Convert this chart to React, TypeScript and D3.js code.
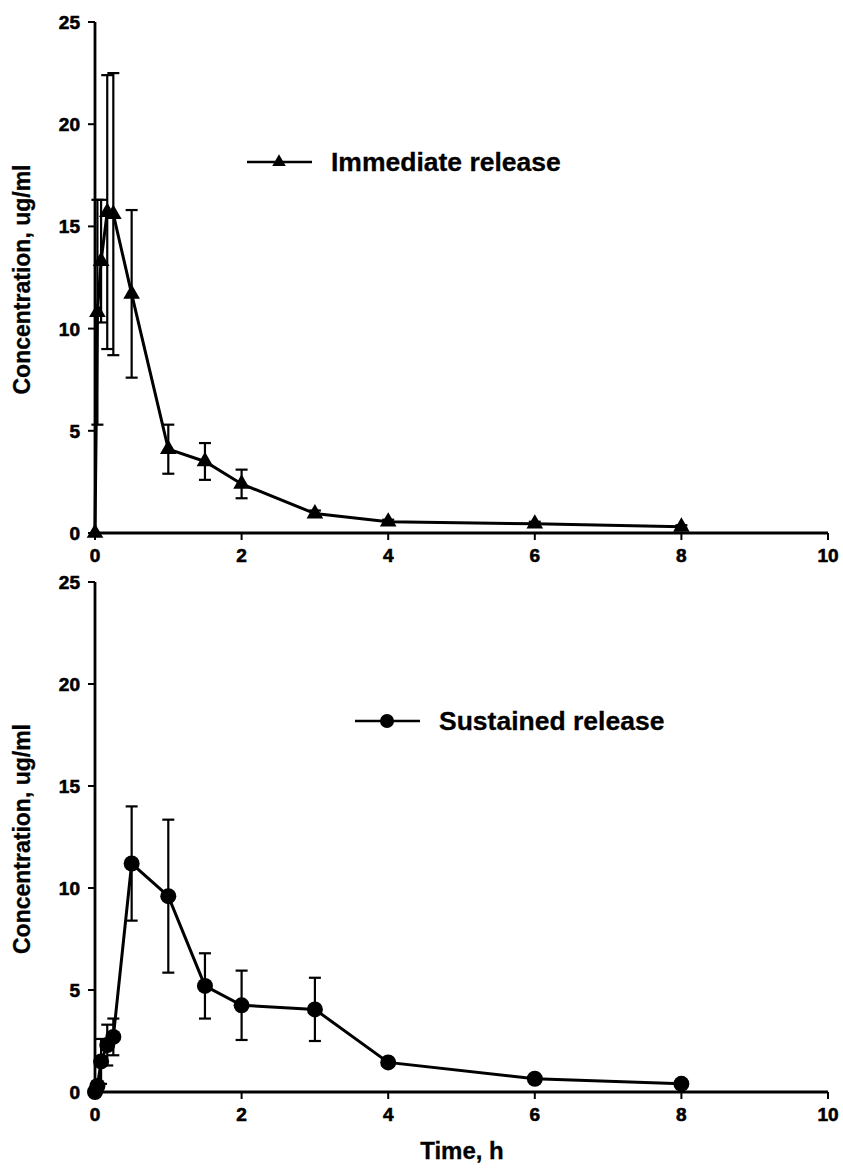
import React from "react";
import * as d3 from "d3";

const irTime = [0, 0.033, 0.083, 0.167, 0.25, 0.5, 1, 1.5, 2, 3, 4, 6, 8];
const irMean = [0, 10.8, 13.3, 15.7, 15.6, 11.7, 4.1, 3.5, 2.4, 0.95, 0.55, 0.45, 0.3];
const irSD = [0, 5.5, 3.0, 6.7, 6.9, 4.1, 1.2, 0.9, 0.7, 0.15, 0.1, 0.1, 0.08];

const srTime = [0, 0.033, 0.083, 0.167, 0.25, 0.5, 1, 1.5, 2, 3, 4, 6, 8];
const srMean = [0, 0.3, 1.5, 2.3, 2.7, 11.2, 9.6, 5.2, 4.25, 4.05, 1.45, 0.65, 0.4];
const srSD = [0, 0.2, 1.1, 1.0, 0.9, 2.8, 3.75, 1.6, 1.7, 1.55, 0.12, 0.1, 0.08];

const xTicks = [0, 2, 4, 6, 8, 10];
const yTicks = [0, 5, 10, 15, 20, 25];

const FONT = "'Liberation Sans', Arial, sans-serif";

type PanelProps = {
  top: number;
  bottom: number;
  time: number[];
  mean: number[];
  sd: number[];
  marker: "triangle" | "circle";
  legend: string;
  legendX: number;
  legendY: number;
};

function Panel({ top, bottom, time, mean, sd, marker, legend, legendX, legendY }: PanelProps) {
  const x = d3.scaleLinear().domain([0, 10]).range([95, 828]);
  const y = d3.scaleLinear().domain([0, 25]).range([bottom, top]);
  const line = d3
    .line<number>()
    .x((_, i) => x(time[i]))
    .y((d) => y(d));
  const tri = d3.symbol().type(d3.symbolTriangle).size(120)();
  const triSmall = d3.symbol().type(d3.symbolTriangle).size(80)();
  const cap = 6;
  const drawMarker = (cx: number, cy: number, key: string | number, small = false) =>
    marker === "triangle" ? (
      <path key={key} d={(small ? triSmall : tri) || ""} transform={`translate(${cx},${cy})`} fill="#000" />
    ) : (
      <circle key={key} cx={cx} cy={cy} r={small ? 7 : 8} fill="#000" />
    );
  return (
    <g>
      {mean.map((m, i) =>
        sd[i] > 0.05 ? (
          <g key={"e" + i} stroke="#000" strokeWidth={2.2}>
            <line x1={x(time[i])} x2={x(time[i])} y1={y(m - sd[i])} y2={y(m + sd[i])} />
            <line x1={x(time[i]) - cap} x2={x(time[i]) + cap} y1={y(m + sd[i])} y2={y(m + sd[i])} />
            <line x1={x(time[i]) - cap} x2={x(time[i]) + cap} y1={y(m - sd[i])} y2={y(m - sd[i])} />
          </g>
        ) : null
      )}
      <path d={line(mean) || ""} fill="none" stroke="#000" strokeWidth={3} />
      {mean.map((m, i) => drawMarker(x(time[i]), y(m), i))}
      <line x1={x(0)} x2={x(0)} y1={y(25)} y2={y(0)} stroke="#000" strokeWidth={2.8} />
      <line x1={x(0)} x2={x(10)} y1={y(0)} y2={y(0)} stroke="#000" strokeWidth={2.8} />
      {yTicks.map((t) => (
        <g key={"y" + t}>
          <line x1={x(0) - 7} x2={x(0)} y1={y(t)} y2={y(t)} stroke="#000" strokeWidth={2} />
          <text
            x={x(0) - 15}
            y={y(t) + 7}
            textAnchor="end"
            fontFamily={FONT}
            fontWeight="bold"
            fontSize={19}
            stroke="#000"
            strokeWidth={0.6}
          >
            {t}
          </text>
        </g>
      ))}
      {xTicks.map((t) => (
        <g key={"x" + t}>
          <line x1={x(t)} x2={x(t)} y1={y(0)} y2={y(0) + 7} stroke="#000" strokeWidth={2} />
          <text
            x={x(t)}
            y={y(0) + 29}
            textAnchor="middle"
            fontFamily={FONT}
            fontWeight="bold"
            fontSize={19}
            stroke="#000"
            strokeWidth={0.6}
          >
            {t}
          </text>
        </g>
      ))}
      <text
        transform={`translate(30,${(top + bottom) / 2 + 2}) rotate(-90)`}
        textAnchor="middle"
        fontFamily={FONT}
        fontWeight="bold"
        fontSize={23}
        stroke="#000"
        strokeWidth={0.3}
      >
        Concentration, ug/ml
      </text>
      <line x1={legendX} x2={legendX + 65} y1={legendY} y2={legendY} stroke="#000" strokeWidth={2.5} />
      {drawMarker(legendX + 32, legendY, "leg", true)}
      <text
        x={legendX + 84}
        y={legendY + 9}
        fontFamily={FONT}
        fontWeight="bold"
        fontSize={26.5}
        stroke="#000"
        strokeWidth={0.3}
      >
        {legend}
      </text>
    </g>
  );
}

export default function App() {
  return (
    <svg
      width={843}
      height={1171}
      style={{ position: "absolute", left: 0, top: 0, background: "#fff" }}
    >
      <rect width={843} height={1171} fill="#fff" />
      <Panel
        top={22}
        bottom={533}
        time={irTime}
        mean={irMean}
        sd={irSD}
        marker="triangle"
        legend="Immediate release"
        legendX={247}
        legendY={162}
      />
      <Panel
        top={582}
        bottom={1092}
        time={srTime}
        mean={srMean}
        sd={srSD}
        marker="circle"
        legend="Sustained release"
        legendX={355}
        legendY={721}
      />
      <text
        x={462}
        y={1159}
        textAnchor="middle"
        fontFamily={FONT}
        fontWeight="bold"
        fontSize={24}
        stroke="#000"
        strokeWidth={0.3}
      >
        Time, h
      </text>
    </svg>
  );
}
